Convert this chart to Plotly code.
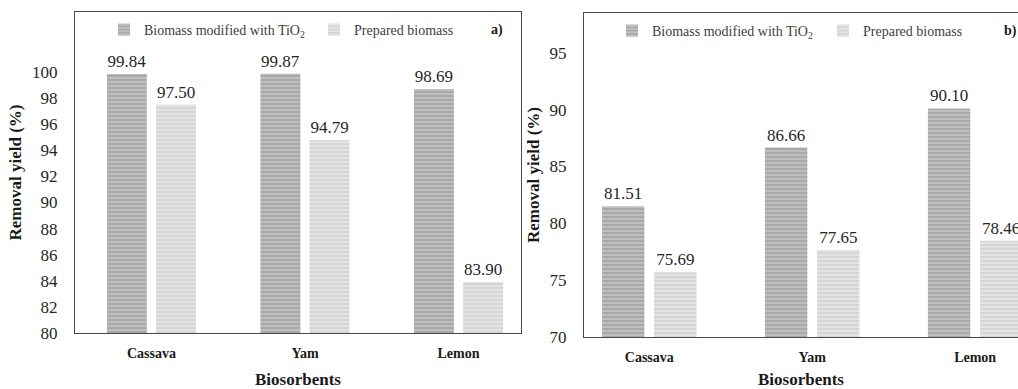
import plotly.graph_objects as go

# Biosorbent categories and removal yields (%)
categories = ["Cassava", "Yam", "Lemon"]
tio2_a = [99.84, 99.87, 98.69]
prepared_a = [97.50, 94.79, 83.90]
tio2_b = [81.51, 86.66, 90.10]
prepared_b = [75.69, 77.65, 78.46]
yticks_a = [80, 82, 84, 86, 88, 90, 92, 94, 96, 98, 100]
yticks_b = [70, 75, 80, 85, 90, 95]

SERIF = "Liberation Serif"
DARK = dict(bg="#a9a9a9", fg="#c8c8c8")
LIGHT = dict(bg="#d5d5d5", fg="#e9e9e9")
NAME_TIO2 = "Biomass modified with TiO<sub>2</sub>"
NAME_PREP = "Prepared biomass"

fig = go.Figure()


def add_pair(tio2, prep, xa, ya, legends):
    series = [(NAME_TIO2, tio2, DARK, -0.29), (NAME_PREP, prep, LIGHT, 0.03)]
    for (name, vals, col, off), lg in zip(series, legends):
        fig.add_trace(go.Bar(
            x=categories, y=vals, name=name, xaxis=xa, yaxis=ya, legend=lg,
            width=0.26, offset=off,
            text=[f"{v:.2f}" for v in vals], textposition="outside",
            textfont=dict(family=SERIF, size=17, color="#262626"),
            cliponaxis=False,
            marker=dict(color=col["bg"], line=dict(width=0),
                        pattern=dict(shape="-", fillmode="replace", bgcolor=col["bg"],
                                     fgcolor=col["fg"], size=4, solidity=0.35)),
        ))


add_pair(tio2_a, prepared_a, "x", "y", ["legend", "legend2"])
add_pair(tio2_b, prepared_b, "x2", "y2", ["legend3", "legend4"])

W, H = 1018, 389
axis_line = "#4a4a4a"
cat_font = dict(family=SERIF, size=14, color="#1a1a1a", weight="bold")
num_font = dict(family=SERIF, size=17, color="#262626")
title_font = dict(family=SERIF, size=17, color="#1a1a1a")
legend_font = dict(family=SERIF, size=14, color="#404040")


def legend_at(x_px, y_px):
    return dict(orientation="h", x=x_px / W, y=(H - y_px) / H, xanchor="left",
                yanchor="middle", font=legend_font, bgcolor="rgba(0,0,0,0)",
                borderwidth=0)


common_x = dict(type="category", showline=True, mirror=True, linecolor=axis_line,
                linewidth=1, showgrid=False, ticks="outside", ticklen=7,
                tickcolor="rgba(0,0,0,0)", tickfont=cat_font, automargin=False)
common_y = dict(showline=True, linecolor=axis_line, linewidth=1, showgrid=False,
                zeroline=False, ticks="outside", ticklen=13,
                tickcolor="rgba(0,0,0,0)", tickfont=num_font, automargin=False)

fig.update_layout(
    width=W, height=H, margin=dict(l=0, r=0, t=0, b=0, autoexpand=False),
    paper_bgcolor="white", plot_bgcolor="white",
    font=dict(family=SERIF),
    xaxis=dict(domain=[75 / W, 521 / W], anchor="y", range=[-0.498, 2.407],
               title=dict(text="<b>Biosorbents</b>", font=title_font, standoff=13),
               **common_x),
    yaxis=dict(domain=[(H - 333) / H, (H - 12) / H], anchor="x",
               range=[80, 104.6], tickvals=yticks_a, mirror=True,
               title=dict(text="<b>Removal yield (%)</b>", font=title_font, standoff=6),
               **common_y),
    xaxis2=dict(domain=[584 / W, 1.0], anchor="y2", range=[-0.4006, 2.263],
                title=dict(text="<b>Biosorbents</b>", font=title_font, standoff=13),
                **common_x),
    yaxis2=dict(domain=[(H - 337) / H, (H - 13) / H], anchor="x2",
                range=[70, 98.5], tickvals=yticks_b, mirror=False,
                title=dict(text="<b>Removal yield (%)</b>", font=title_font, standoff=5),
                **common_y),
    legend=legend_at(104, 30),
    legend2=legend_at(314, 30),
    legend3=legend_at(612, 31),
    legend4=legend_at(823, 31),
    annotations=[
        dict(text="<b>a)</b>", x=489 / W, y=(H - 30) / H, xref="paper", yref="paper",
             xanchor="left", yanchor="middle", showarrow=False,
             font=dict(family=SERIF, size=14, color="#1a1a1a")),
        dict(text="<b>b)</b>", x=1002 / W, y=(H - 31) / H, xref="paper", yref="paper",
             xanchor="left", yanchor="middle", showarrow=False,
             font=dict(family=SERIF, size=14, color="#1a1a1a")),
    ],
    showlegend=True,
)

fig.write_html("out.html")
